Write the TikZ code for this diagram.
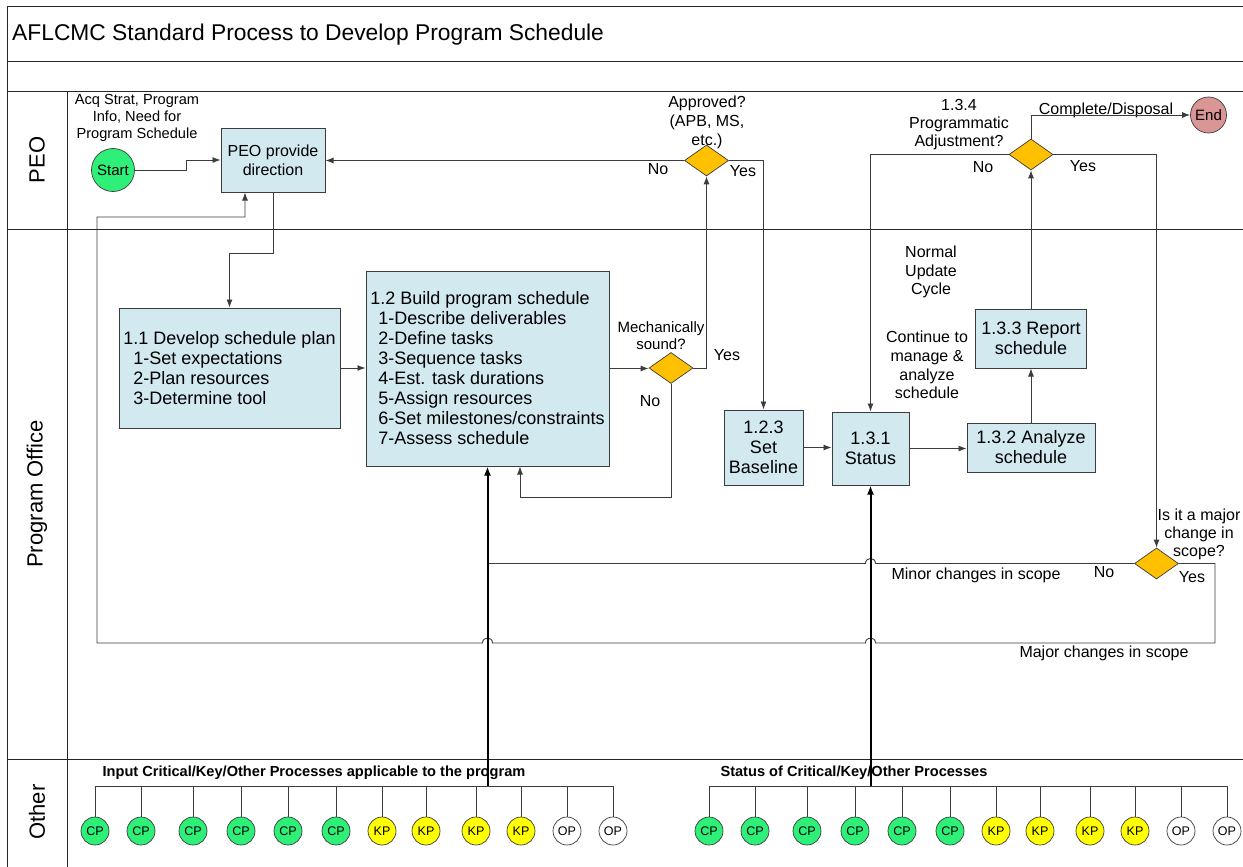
\documentclass[tikz,border=0pt]{standalone}
\usepackage{fontspec}
\setmainfont{Liberation Sans}
\usetikzlibrary{arrows.meta,shapes.geometric}

\definecolor{boxblue}{RGB}{210,233,239}
\definecolor{decgold}{RGB}{255,192,0}
\definecolor{cpgreen}{RGB}{46,240,120}
\definecolor{kpyellow}{RGB}{255,255,0}
\definecolor{endred}{RGB}{217,150,148}
\definecolor{linegray}{RGB}{60,60,60}

\begin{document}
\begin{tikzpicture}[x=1pt,y=-1pt,
  every node/.style={inner sep=0pt},
  frame/.style={draw=black!85,line width=1pt},
  stepbox/.style={draw=linegray,line width=1pt,fill=boxblue,font=\fontsize{18}{20}\selectfont,align=center},
  decision/.style={diamond,draw=linegray,line width=0.7pt,fill=decgold,minimum width=44pt,minimum height=31pt},
  proc/.style={circle,draw=linegray,line width=0.7pt,minimum size=28pt,font=\fontsize{12.5}{14}\selectfont},
  lbl/.style={font=\fontsize{16}{18.6}\selectfont,align=center},
  hdr/.style={font=\fontsize{14.6}{17}\selectfont\bfseries},
  lane/.style={rotate=90,font=\fontsize{22}{26}\selectfont},
  conn/.style={draw=linegray,line width=0.9pt,-{Latex[length=8pt,width=6pt]}},
  thickconn/.style={draw=black,line width=2pt,-{Latex[length=9pt,width=7pt]}},
  busline/.style={draw=linegray,line width=0.9pt}]
\useasboundingbox (0,0) rectangle (1243,867);
\fill[white] (0,0) rectangle (1243,867);

\draw[frame] (7,7) rectangle (1260,890);
\foreach \y in {62,92,229,759}
  \draw[frame] (7,\y) -- (1260,\y);
\draw[frame] (67,92) -- (67,890);

\node[anchor=west,font=\fontsize{22.8}{26}\selectfont] (title) at (12,35) {AFLCMC Standard Process to Develop Program Schedule};
\node[lane] (lanepeo) at (37,160) {PEO};
\node[lane] (laneoffice) at (37,494) {Program Office};
\node[lane] (laneother) at (37,812) {Other};

\node[circle,draw=linegray,line width=0.7pt,fill=cpgreen,minimum size=43pt,font=\fontsize{15}{17}\selectfont] (start) at (113,170) {Start};
\node[circle,draw=linegray,line width=0.7pt,fill=endred,minimum size=36pt,font=\fontsize{15}{17}\selectfont] (finish) at (1208.5,115) {End};

\node[stepbox,font=\fontsize{16}{19}\selectfont,minimum width=104pt,minimum height=64pt] (peo) at (273,160) {PEO provide\\direction};
\node[stepbox,align=left,minimum width=221pt,minimum height=120pt] (plan) at (229.5,368) {1.1 Develop schedule plan\\\hspace*{10pt}1-Set expectations\\\hspace*{10pt}2-Plan resources\\\hspace*{10pt}3-Determine tool};
\node[stepbox,align=left,minimum width=243pt,minimum height=195pt] (build) at (487.5,368.5) {1.2 Build program schedule\\\hspace*{8pt}1-Describe deliverables\\\hspace*{8pt}2-Define tasks\\\hspace*{8pt}3-Sequence tasks\\\hspace*{8pt}4-Est. task durations\\\hspace*{8pt}5-Assign resources\\\hspace*{8pt}6-Set milestones/constraints\\\hspace*{8pt}7-Assess schedule};
\node[stepbox,minimum width=79pt,minimum height=75pt] (base) at (763.5,447.5) {1.2.3\\Set\\Baseline};
\node[stepbox,minimum width=77pt,minimum height=73pt] (status) at (870.5,448.5) {1.3.1\\Status};
\node[stepbox,minimum width=128pt,minimum height=49pt] (analyze) at (1031,447.5) {1.3.2 Analyze\\schedule};
\node[stepbox,minimum width=111pt,minimum height=59pt] (report) at (1031,338.5) {1.3.3 Report\\schedule};

\node[decision] (mech) at (671,368) {};
\node[decision] (appr) at (706.5,160.5) {};
\node[decision] (adj) at (1031,154.5) {};
\node[decision] (scope) at (1156.5,563.5) {};

\node[lbl,font=\fontsize{14.6}{16.6}\selectfont] (inputlbl) at (137,118) {Acq Strat, Program\\Info, Need for\\Program Schedule};
\node[lbl,font=\fontsize{16}{19}\selectfont] (apprlbl) at (707,122) {Approved?\\(APB, MS,\\etc.)};
\node[lbl] (apprno) at (658,169) {No};
\node[lbl] (appryes) at (743,171) {Yes};
\node[lbl,font=\fontsize{15}{17}\selectfont] (mechlbl) at (661,336) {Mechanically\\sound?};
\node[lbl] (mechyes) at (727,355) {Yes};
\node[lbl] (mechno) at (650,401) {No};
\node[lbl,font=\fontsize{16}{18}\selectfont] (adjlbl) at (959,125) {1.3.4\\Programmatic\\Adjustment?};
\node[lbl] (adjno) at (983,167) {No};
\node[lbl] (adjyes) at (1083,166) {Yes};
\node[lbl] (donelbl) at (1106,110) {Complete/Disposal};
\node[lbl] (cyclelbl) at (931,272) {Normal\\Update\\Cycle};
\node[lbl] (contlbl) at (927,365) {Continue to\\manage \&\\analyze\\schedule};
\node[lbl,font=\fontsize{16}{18}\selectfont] (scopelbl) at (1199,534) {Is it a major\\change in\\scope?};
\node[lbl] (scopeno) at (1104,572) {No};
\node[lbl] (scopeyes) at (1192,577) {Yes};
\node[lbl] (minorlbl) at (976,575) {Minor changes in scope};
\node[lbl] (majorlbl) at (1104,653) {Major changes in scope};

\node[hdr] (inhdr) at (314,773) {Input Critical/Key/Other Processes applicable to the program};
\node[hdr] (stathdr) at (854,773) {Status of Critical/Key/Other Processes};

\foreach \i/\x/\t/\c in {1/0/CP/cpgreen,2/46/CP/cpgreen,3/98/CP/cpgreen,4/146/CP/cpgreen,5/193/CP/cpgreen,6/241/CP/cpgreen,7/287/KP/kpyellow,8/331/KP/kpyellow,9/381/KP/kpyellow,10/426/KP/kpyellow,11/472/OP/white,12/518/OP/white}{
  \node[proc,fill=\c] (a\i) at (95+\x,831) {\t};
  \node[proc,fill=\c] (b\i) at (709+\x,831) {\t};
}
\coordinate (busa) at (487.5,786);
\coordinate (busb) at (870.5,786);
\draw[busline] (a1.north |- busa) -- (a12.north |- busa);
\draw[busline] (b1.north |- busb) -- (b12.north |- busb);
\foreach \i in {1,...,12}{
  \draw[busline] (a\i.north) -- (a\i.north |- busa);
  \draw[busline] (b\i.north) -- (b\i.north |- busb);
}

\draw[conn] (start.east) -- (186,170) |- (peo.west);
\draw[conn] (appr.west) -- (appr.west -| peo.east);
\draw[conn] (peo.south) -- ++(0,61) -| (plan.north);
\draw[conn] (plan.east) -- (plan.east -| build.west);
\draw[conn] (build.east) -- (build.east -| mech.west);
\draw[conn] (mech.east) -| (appr.south);
\coordinate (mechback) at (520,497);
\draw[conn] (mech.south) |- (mechback) -- (mechback |- build.south);
\draw[conn] (appr.east) -| (base.north);
\draw[conn] (base.east) -- (base.east -| status.west);
\draw[conn] (status.east) -- (status.east -| analyze.west);
\draw[conn] (analyze.north) -- (analyze.north |- report.south);
\draw[conn] (report.north) -- (report.north |- adj.south);
\draw[conn] (adj.north) |- (finish.west);
\draw[conn] (adj.west) -| (status.north);
\draw[conn] (adj.east) -| (scope.north);
\draw[busline] (scope.west) -- (875.5,563.5) .. controls (875.5,556.8) and (865.5,556.8) .. (865.5,563.5) -- (487.5,563.5);
\draw[conn] (scope.east) -- (1215,563.5) -- (1215,643) -- (875.5,643) .. controls (875.5,636.3) and (865.5,636.3) .. (865.5,643) -- (492.5,643) .. controls (492.5,636.3) and (482.5,636.3) .. (482.5,643) -- (97,643) -- (97,217) -| ([xshift=-28pt]peo.south);
\draw[thickconn] (busa) -- (build.south);
\draw[thickconn] (busb) -- (status.south);
\end{tikzpicture}
\end{document}
